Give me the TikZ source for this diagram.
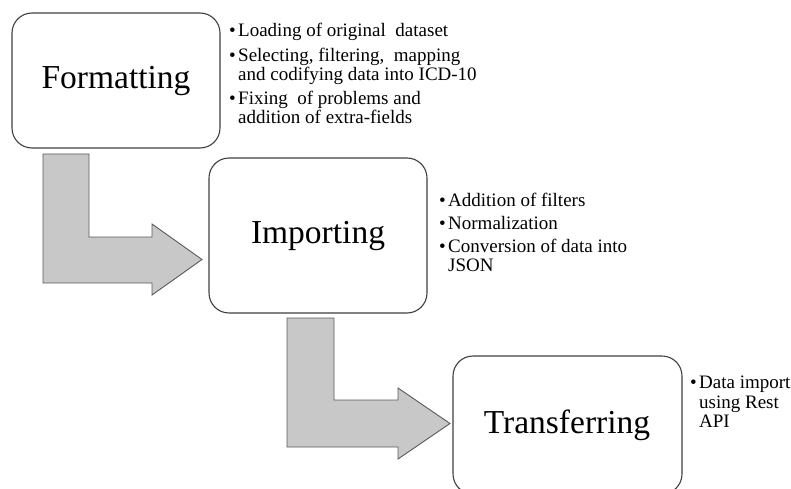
\documentclass[tikz,border=0pt]{standalone}
\usepackage{fontspec}
\setmainfont{Liberation Serif}
\definecolor{boxline}{HTML}{404040}
\definecolor{arrowfill}{HTML}{C8C8C8}
\definecolor{arrowline}{HTML}{5A5A5A}
\newcommand{\bul}{\llap{\textbullet\hspace{2.5pt}}}
\tikzset{
  stagebox/.style={draw=boxline, line width=1.1pt, rounded corners=20pt, fill=white},
  bentarrow/.style={draw=arrowline, line width=0.9pt, fill=arrowfill},
  stagelabel/.style={font=\fontsize{33.5}{38}\selectfont, inner sep=0pt, text=black},
  bline/.style={font=\fontsize{19}{20}\selectfont, inner sep=0pt, anchor=base west, text=black}
}
\begin{document}
\begin{tikzpicture}[x=1pt,y=-1pt]
\useasboundingbox (0,0) rectangle (791,489);
\clip (0,0) rectangle (791,489);
% boxes
\draw[stagebox] (12,13) rectangle (220,148);
\draw[stagebox] (209,158) rectangle (427,313);
\draw[stagebox] (453,356) rectangle (682,494);
\node[stagelabel] (fmt) at (116,81) {Formatting};
\node[stagelabel] (imp) at (318,236) {Importing};
\node[stagelabel] (trf) at (567,425) {Transferring};
% bent arrows
\draw[bentarrow] (43,154) -- (89,154) -- (89,237) -- (152,237) -- (152,224)
  -- (202,259.5) -- (152,295) -- (152,283) -- (43,283) -- cycle;
\draw[bentarrow] (287,318) -- (334,318) -- (334,400) -- (398,400) -- (398,388)
  -- (450,423.5) -- (398,459) -- (398,447) -- (287,447) -- cycle;
% bullets for Formatting
\node[bline] (f1) at (238,36.7) {\bul Loading of original\ \ dataset};
\node[bline] (f2) at (238,61.7) {\bul Selecting,\ filtering,\ \ mapping};
\node[bline] (f3) at (238,81) {and codifying data into ICD-10};
\node[bline] (f4) at (238,105) {\bul Fixing\ \ of problems and};
\node[bline] (f5) at (238,124) {addition of extra-fields};
% bullets for Importing
\node[bline] (i1) at (448,206.7) {\bul Addition of filters};
\node[bline] (i2) at (448,229) {\bul Normalization};
\node[bline] (i3) at (448,252.7) {\bul Conversion of data into};
\node[bline] (i4) at (448,271) {JSON};
% bullets for Transferring
\node[bline] (t1) at (699,388) {\bul Data import};
\node[bline] (t2) at (699,408) {using Rest};
\node[bline] (t3) at (699,427) {API};
\end{tikzpicture}
\end{document}
